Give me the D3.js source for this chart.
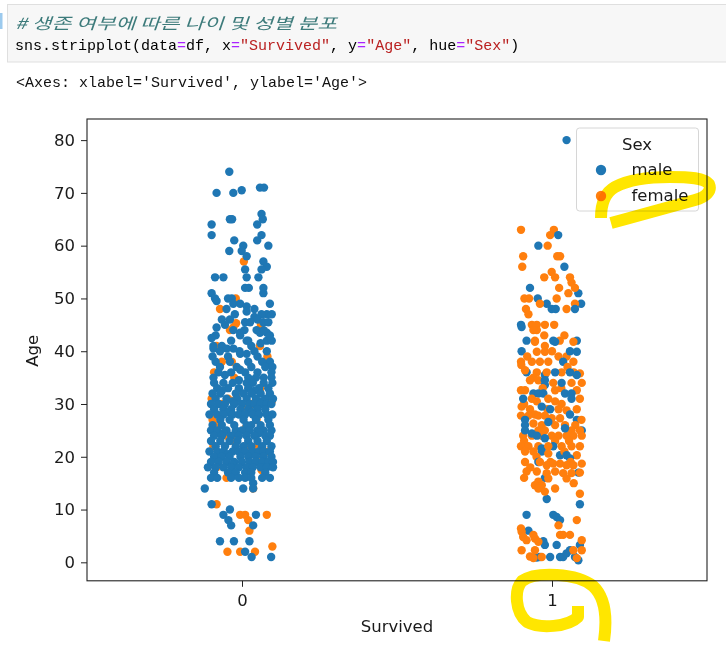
<!DOCTYPE html>
<html>
<head>
<meta charset="utf-8">
<script src="https://cdn.jsdelivr.net/npm/d3@7"></script>
<style>
  html, body { margin: 0; padding: 0; background: #fff; }
  svg { display: block; }
</style>
</head>
<body>
<div id="main"></div>
<script>
// Chart values
const categories = [0, 1];
const categoryLabels = ["0", "1"];
const ageTicks = [0, 10, 20, 30, 40, 50, 60, 70, 80];
const sexLevels = ["male", "female"];
const sexColors = ["#1f77b4", "#ff7f0e"];

// Points as [Age, jitter] (jitter in 1/100 of a category width)
const diedMale = [
    [74,-4.1],[70,-8.2],[70,-2.8],[70.5,-0.1],[71,5.8],[71,7.1],
    [65,-3.9],[65,-3.2],[66,6.3],[65,6.7],[64,4.9],[64,-9.8],[62,-9.8],[62,6.3],[61,4.9],[61,-2.5],
    [60,0.4],[60,8.5],[59,-4.1],[59,-0.1],[58,1.5],[57,6.9],[56,8],[55.5,6.3],[55.5,1],
    [54,-8.7],[54,-6],[54,1.5],[54,5.3],[52,1],[52,2.2],[52,6.9],[51,-9.8],[51,6.9],[50,-3.3],[50,-8.7],[50,-4.5],
    [49.5,-8.2],[49,-2.8],[49,-0.6],[49,9],[48.5,1.5],[48,4],[48,-5],[47.5,1.5],[47,8],[47,9.6],[47,6.3],
    [46.5,4],[46,5],[46,-6.5],[46,-3.9],[47,-2.3],
    [45.5,1],[45.5,2.6],[45.5,6.9],[45.5,8.5],[45,-5.5],[44.5,-8.2],[44,0.8],[43.5,-0.6],[42,2],[44,4.7],
    [43.5,5.8],[43.5,8],[43,-8.5],[42,8],[42,9.6],[42,-3.5],
    [42.5,-9.8],[41,-9.2],[41,-6.5],[41,3],[40.5,-4.9],[40.5,-9.2],[40,-7.1],[40,-0.8],[44,-2.8],[43,-0.6],
    [42,1.5],[40.5,-2.8],[39.5,-0.6],[39.5,1.5],[39,-9.5],[39,-4.5],
    [44,7],[43,9],[41.5,6],[40,8],[40,4],[39,5],[38,9],[38,6.5],[38,2],[38,-8.5],[37,3],[37,7.5],[37,9.8],
    [36,9.5],[36,5],[36,-3.5],[36,1],[35.5,-5.5],[35,7],[35,2],[35,4.5],[35,9.5],[34.5,-1],
    [38,-3.9],[37,-7.1],[37,-1.7],[36.5,-0.6],[35,-9.2],[36,-7.6],[34,1.5],
    [34,-9],[34,-6],[34,-3],[34,3.5],[34,7],[34,9.8],
    [33,-8],[33,-4.5],[33,-1],[33,2],[33,5.5],[33,8.5],
    [32.5,-6.5],[32.5,4],
    [32,-9.5],[32,-7],[32,-2],[32,0.5],[32,3],[32,6],[32,9],
    [31,-8.5],[31,-5],[31,-1.5],[31,1.5],[31,4.5],[31,7.5],[31,10],
    [30.5,-3],[30.5,6.5],
    [30,-10],[30,-7.5],[30,-5.5],[30,-2.5],[30,0],[30,2.5],[30,4],[30,6],[30,8],[30,9.5],
    [29,-9],[29,-6],[29,-3.5],[29,-0.5],[29,2],[29,5],[29,7.5],
    [28.5,-4.5],[28.5,3.2],
    [28,-10.5],[28,-8],[28,-6],[28,-3],[28,-1],[28,1],[28,3.5],[28,5.5],[28,8],[28,9.8],
    [27,-7],[27,-4],[27,0.5],[27,4.5],[27,8.5],
    [26,-9.5],[26,-6.5],[26,-2.5],[26,1.5],[26,3],[26,6],[26,9],
    [25,-10],[25,-8],[25,-5],[25,-2],[25,0],[25,2.5],[25,5],[25,7],[25,9.5],
    [24.5,-6],[24.5,5.5],
    [24,-9],[24,-6.5],[24,-3.5],[24,-1],[24,1.5],[24,4],[24,7.5],[24,9],
    [23,-10],[23,-7],[23,-4],[23,-1.5],[23,2],[23,5],[23,8],
    [22,-8.5],[22,-5.5],[22,-2],[22,0.5],[22,3],[22,6.5],[22,9.5],
    [21,-10.5],[21,-8],[21,-6],[21,-3],[21,-1],[21,1],[21,3.5],[21,5.5],[21,7],[21,9],
    [20.5,-4.5],
    [20,-9],[20,-6.5],[20,-4],[20,-0.5],[20,2],[20,4.5],[20,7],[20,9.5],
    [19,-10],[19,-7.5],[19,-5],[19,-2.5],[19,0],[19,2.5],[19,4.5],[19,6.5],[19,8.5],[19,10],
    [18.5,-3],
    [18,-11],[18,-8.5],[18,-6],[18,-3.5],[18,-1],[18,1.5],[18,3.5],[18,6],[18,8],[18,10],
    [17,-9],[17,-4.5],[17,-2],[17,1],[17,3],[17,7.5],
    [16,-10],[16,-8],[16,-3.5],[16,-1],[16,1],[16,3],[16,6.5],[16,9],
    [15,3.6],[14,3.6],[14,0.4],[14,-12],
    [11,-9.8],[10,-3.9],[9,-6],[9,4.5],[8,-4.4],[7,-3.5],[7,3.6],
    [4,-7.1],[4,-2.6],[4,2.4],[2,1],[1,3.1],[1,9.4]
];

const diedFemale = [
    [57,0.6],[50,-2],[48,-7.1],[45,6.1],[44,-3.9],[44.5,-2.8],[45.3,-1.9],[41,5.8],[41,-8.2],
    [39,8.2],[38,-6.5],[37.5,-7.1],[38,-3.3],[36,-9],[35,-2.5],[33,6],
    [31,-9.8],[31,-4.5],[32,-1.7],[30,3],[30,-6.5],[29,1.5],[30.5,9.6],[30.7,-2.3],
    [28,-9.8],[27,-9.5],[26,-8.2],[27,4.7],[25,1],[25.4,1.2],[24,-5],
    [23,-2.8],[22,-9.2],[22,4.7],[22,1.5],[21,2],[21,8.5],[20,-7],[19,5],
    [18,-8.2],[18,2],[17.5,6.3],[16,-5],[14,3.6],
    [11,-8.2],[9,-0.6],[9,1],[9,8],[8,2],[6,2.4],[3,9.8],[2,-4.7],[2,-0.6],[2,4.2]
];

const survivedMale = [
    [80,4.7],[62,2],[60,-4.4],[56,4],[52,-7.1],[51,8.5],[50,-4.6],[49,-1.7],[49,9.4],
    [48,-0.1],[48,1.2],[48,7.4],[45,-10],[44.6,-9.8],[42,-8.2],[42,0.4],[42,8],
    [41.8,1],[40,-9.8],[40,5.8],[39.9,8],[38,3.6],[36,-8.2],[35.5,-2.3],[36,1],[36,5.8],[35.5,8],
    [34.5,-2.3],[33.6,-2.3],[34,3.1],[32,-6],[32,-4.4],[32,-2.8],[32,4.2],[32,6.3],[31,-9.3],[31,6.3],
    [29.5,-3.3],[29,-0.6],[28,5.8],[27,8],[27,-8.7],[26,-8.7],[26.6,-1.2],[25,9.6],[25,-8.7],
    [24.4,-6.5],[25.4,4.2],[24,-4.9],[23.5,-2.3],[22,0.4],[21.6,-3.3],
    [21,-3.3],[20.3,2.6],[20.3,4.7],[19.7,5.8],[19,-4.4],[17,8.5],[16,-2.3],[12,-1.7],[11,9],
    [9,-8.2],[9,0.4],[8.6,1.5],[8,2.6],[6,-7.6],[4,-2.8],[3.3,-2.3],[3.3,1.5],[2.3,5.8],[3.3,9],
    [0.9,-4.9],[1,-3.9],[1,-0.6],[1,2.6],[1,3.6],[1.7,4.7],[1,7.4],[0.4,8.5]
];

const survivedFemale = [
    [63,-10],[63,0.6],[62,-0.6],[60,-1.4],[58,-9.3],[58,1.7],[58,2.6],[56,-9.6],[55,-0.1],
    [54,-2.5],[54,1],[54,5.8],[53,6.3],[52,2.3],[52,7.4],[51,5.3],[50,-8.9],[50,-7.4],[49,-3.9],
    [50,1.5],[49,7.4],[48,4.7],[48,-8.4],[47,-7.6],[45,-6.5],[45,-4.9],[44,-4.9],[45,-2.3],[45,0.7],
    [44,-6],[43,-2.5],[42,-5.5],[43,4],[42,2.5],
    [41.8,-5.5],[41,-2.3],[41.8,6.9],[39.9,-4.9],[39.9,-2.3],[39,2.1],[39,4.7],[39,-8],[40,0],
    [38,-10],[38,-6.5],[38,-3.9],[38,-1.2],[38,6.9],[37.4,-9.9],[37,5],[36.4,-8.7],[36,-4.9],
    [36,-1.7],[36,3.1],[36,7],[35.8,9],[35,-6],[34.5,-7.1],[34.5,-4.4],[34,0.4],[34,6.3],[34,9.6],
    [33,3],[33,-3],[32.6,-10],[32.6,-8.7],[32.6,1],[32.6,8],[31,-6.5],[31,9],[30.5,-4.9],[31,-1.2],
    [30.5,1],[30,3.1],[30,-9],[29.5,-9.8],[29,-7.1],[29,2.1],[29,-1.5],[28.8,4.7],[29,8],
    [28,-5.5],[27.8,-10],[27.8,-7.6],[27.8,-4.4],[27.8,-2.3],[27.3,-0.1],[27.3,2.6],[27,9.5],
    [26.3,-6],[26,-3.3],[26,1],[26,4.2],[26,7.5],[25,-4.4],[25,-2.3],[25,6.3],[25,9],
    [24,-9.3],[24,-6.5],[24,-3.3],[24,-0.1],[24,2.1],[24,4.7],[24,6.9],[24,9.6],
    [23,-9],[23,1],[23,5.5],
    [22,-10],[22,-7.6],[22,-4.4],[22,-1.2],[22,3.1],[22,6.3],[22,9],
    [21,-8.7],[21,-6],[21,4],[20.6,-1.2],[20.3,8],[20,-5],[19,-8.7],[19,-3.9],[19,6],[19,-0.5],
    [18.4,-1.7],[18.7,0.4],[18.7,2.6],[18.4,4.7],[18.4,6.9],[18.7,9.6],[18,-7],
    [17.2,-8.2],[17.2,-4.9],[16.9,-1.7],[17.2,1],[16.9,3.6],[16.9,6.3],[17,9],[16,-9],
    [15.9,-1.2],[15.9,4.7],[15.3,-4.4],[15,7],[14.6,-3.3],[14.6,-5.5],[14,-4.4],[14,1],[13.4,-2.3],[13,9],
    [8,8],[7,2.1],[6.4,-10],[5.8,-9.8],[4.8,-9.3],[4.2,-8.2],[5.2,-6],[4.5,-5.5],
    [5.2,2.6],[5.2,3.6],[5.2,5.8],[3.9,-4.4],[4.2,9.6],[2.3,-9.8],[2.3,-5.5],
    [1.1,-7.1],[0.8,-6],[1,-3.3],[2.3,6.9],[2.3,9.6],[0.8,8]
];

// Notebook cell text
const commentLine = "# 생존 여부에 따른 나이 및 성별 분포";
const codeSegments = [
    ["sns.stripplot(data", "#000"], ["=", "#aa22ff"], ["df, x", "#000"], ["=", "#aa22ff"],
    ["\"Survived\"", "#ba2121"], [", y", "#000"], ["=", "#aa22ff"], ["\"Age\"", "#ba2121"],
    [", hue", "#000"], ["=", "#aa22ff"], ["\"Sex\"", "#ba2121"], [")", "#000"]
];
const outputLine = "<Axes: xlabel='Survived', ylabel='Age'>";

let width = 726, height = 645;
let plot = {left: 87, right: 707, top: 119, bottom: 580.8};
let charWidth = 9;

let svg = d3.select("#main")
    .append("svg")
    .attr("width", width)
    .attr("height", height);

drawNotebookCell(svg);
drawStripPlot(svg);
drawHighlights(svg);

function drawNotebookCell(svg) {
    // Liberation Mono advances 0.6em, so 15px gives the 9px cell of the screenshot
    let mono = "'Liberation Mono', 'DejaVu Sans Mono', monospace";
    svg.append("rect")
        .attr("x", 7.5).attr("y", 4.5)
        .attr("width", 730).attr("height", 57.5)
        .attr("fill", "#f7f7f7")
        .attr("stroke", "#dfdfdf");

    svg.append("rect")
        .attr("x", 0).attr("y", 13)
        .attr("width", 2.5).attr("height", 16)
        .attr("fill", "#9ccaee");

    svg.append("text")
        .attr("x", 15).attr("y", 29)
        .attr("font-family", "'Noto Sans CJK KR', 'Noto Sans', sans-serif")
        .attr("font-size", "15.5px")
        .attr("font-style", "italic")
        .attr("fill", "#3d7b7b")
        .attr("textLength", 36 * charWidth - 2)
        .attr("lengthAdjust", "spacingAndGlyphs")
        .text(commentLine);

    let code = svg.append("text")
        .attr("x", 15).attr("y", 50)
        .attr("font-family", mono)
        .attr("font-size", "15px")
        .style("white-space", "pre");
    code.selectAll("tspan")
        .data(codeSegments)
        .enter().append("tspan")
        .attr("fill", function(d) { return d[1]; })
        .text(function(d) { return d[0]; });

    svg.append("text")
        .attr("x", 16).attr("y", 87)
        .attr("font-family", mono)
        .attr("font-size", "15px")
        .attr("fill", "#111")
        .text(outputLine);
}

// mix the two hue levels so the draw order is not one colour on top of the other
function mixLevels(males, females) {
    let out = [];
    males.forEach(function(d, i) { out.push({age: d[0], jit: d[1], sex: 0, k: (i + 0.5) / males.length}); });
    females.forEach(function(d, i) { out.push({age: d[0], jit: d[1], sex: 1, k: (i + 0.3) / females.length}); });
    return out.sort(function(a, b) { return a.k - b.k; });
}

function drawStripPlot(svg) {
    let font = "'DejaVu Sans', sans-serif";
    let xScale = d3.scaleLinear().domain([-0.5, 1.5]).range([plot.left, plot.right]);
    let yScale = d3.scaleLinear().domain([-3.5, 84]).range([plot.bottom, plot.top]);

    let groups = [mixLevels(diedMale, diedFemale), mixLevels(survivedMale, survivedFemale)];
    let g = svg.append("g");
    groups.forEach(function(points, c) {
        g.selectAll(".pt" + c)
            .data(points)
            .enter().append("circle")
            .attr("class", "pt" + c)
            .attr("cx", function(d) { return xScale(categories[c] + d.jit / 100); })
            .attr("cy", function(d) { return yScale(d.age); })
            .attr("r", 4.2)
            .attr("fill", function(d) { return sexColors[d.sex]; });
    });

    let xAxis = svg.append("g")
        .attr("transform", "translate(0," + plot.bottom + ")")
        .call(d3.axisBottom(xScale)
            .tickValues(categories)
            .tickFormat(function(d) { return categoryLabels[d]; })
            .tickSize(6).tickPadding(7).tickSizeOuter(0));
    let yAxis = svg.append("g")
        .attr("transform", "translate(" + plot.left + ",0)")
        .call(d3.axisLeft(yScale)
            .tickValues(ageTicks)
            .tickSize(6).tickPadding(6).tickSizeOuter(0));
    [xAxis, yAxis].forEach(function(a) {
        a.select(".domain").remove();
        a.selectAll("line").attr("stroke", "#222");
        a.selectAll("text")
            .attr("fill", "#1a1a1a")
            .style("font-family", font)
            .style("font-size", "16.5px");
    });

    svg.append("rect")
        .attr("x", plot.left).attr("y", plot.top)
        .attr("width", plot.right - plot.left)
        .attr("height", plot.bottom - plot.top)
        .attr("fill", "none")
        .attr("stroke", "#222")
        .attr("stroke-width", 1.1);

    svg.append("text")
        .attr("x", (plot.left + plot.right) / 2).attr("y", 632)
        .attr("text-anchor", "middle")
        .attr("font-family", font).attr("font-size", "16.5px")
        .attr("fill", "#1a1a1a")
        .text("Survived");

    svg.append("text")
        .attr("transform", "translate(38," + ((plot.top + plot.bottom) / 2 + 1) + ") rotate(-90)")
        .attr("text-anchor", "middle")
        .attr("font-family", font).attr("font-size", "16.5px")
        .attr("fill", "#1a1a1a")
        .text("Age");

    // legend
    let legend = svg.append("g");
    legend.append("rect")
        .attr("x", 576.5).attr("y", 128)
        .attr("width", 122).attr("height", 83)
        .attr("rx", 3)
        .attr("fill", "#fff").attr("fill-opacity", 0.8)
        .attr("stroke", "#d6d6d6");
    legend.append("text")
        .attr("x", 637).attr("y", 150)
        .attr("text-anchor", "middle")
        .attr("font-family", font).attr("font-size", "16.5px")
        .attr("fill", "#1a1a1a")
        .text("Sex");
    sexLevels.forEach(function(s, i) {
        legend.append("circle")
            .attr("cx", 601).attr("cy", 170 + i * 26)
            .attr("r", 5.2)
            .attr("fill", sexColors[i]);
        legend.append("text")
            .attr("x", 631.5).attr("y", 175 + i * 26)
            .attr("font-family", font).attr("font-size", "16.5px")
            .attr("fill", "#1a1a1a")
            .text(s);
    });
}

// yellow marker strokes drawn over the screenshot (multiply keeps the ink visible under them)
function drawHighlights(svg) {
    let strokes = [
        "M601,218 C601,202 606,192 615,187 C630,179 650,177 670,177 C690,177 704,178 709,184 C712,191 706,197 695,200 C670,207 640,215 611,223",
        "M578,606 L578,617 C568,627 540,629 527,622 C515,612 514,590 522,581 C536,571 577,573 593,586 C606,598 607,620 604,641"
    ];
    svg.selectAll(".marker-stroke")
        .data(strokes)
        .enter().append("path")
        .attr("class", "marker-stroke")
        .attr("d", function(d) { return d; })
        .attr("fill", "none")
        .attr("stroke", "#ffe600")
        .attr("stroke-width", 12)
        .attr("stroke-linecap", "butt")
        .attr("stroke-linejoin", "round")
        .style("mix-blend-mode", "multiply");
}
</script>
</body>
</html>
